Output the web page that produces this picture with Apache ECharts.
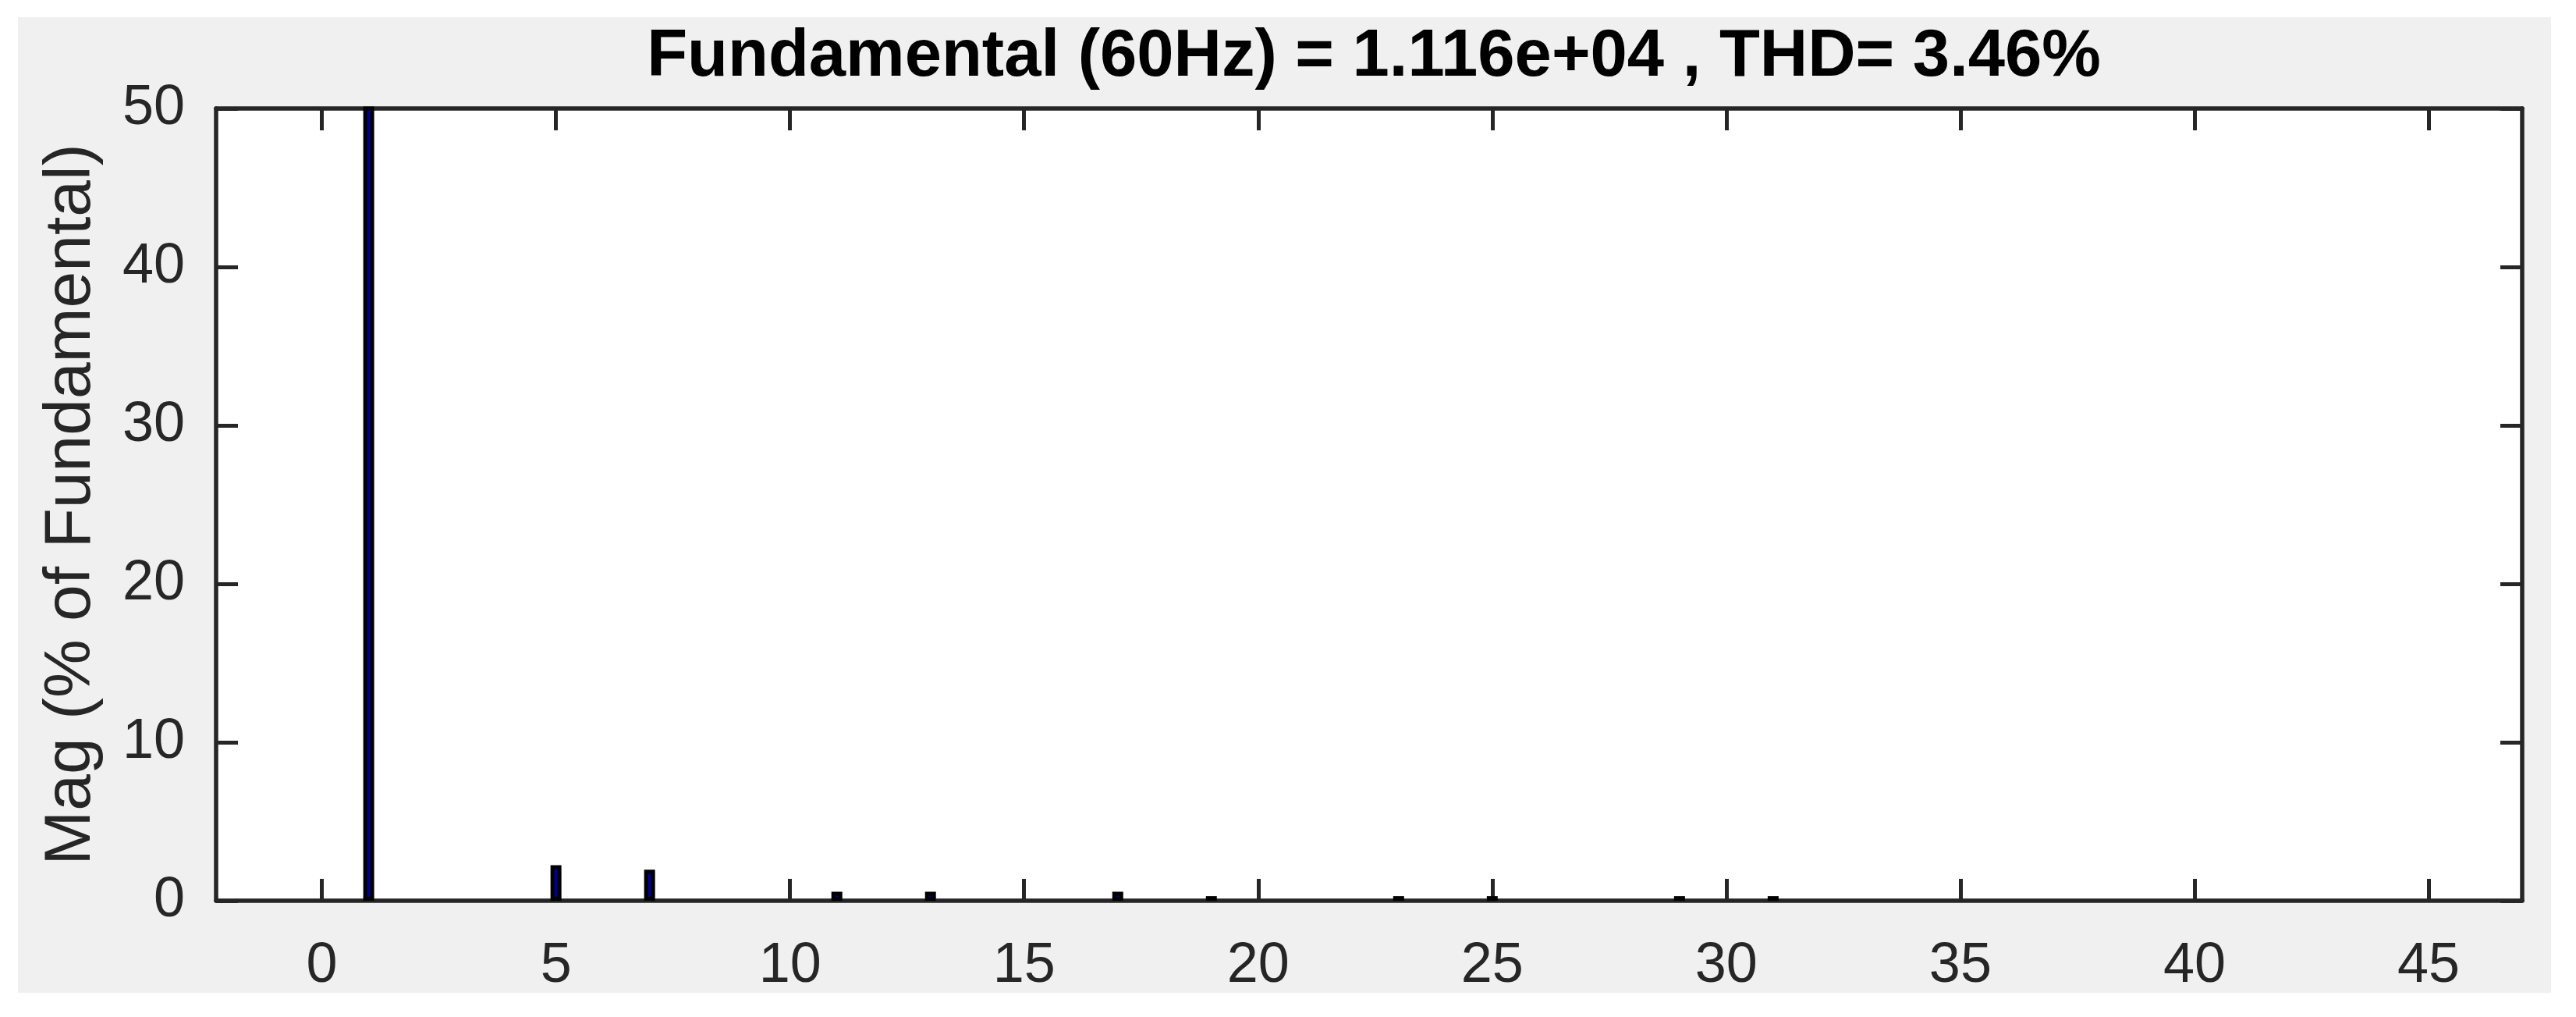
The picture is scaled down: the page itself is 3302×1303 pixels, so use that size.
<!DOCTYPE html>
<html>
<head>
<meta charset="utf-8" />
<title>FFT analysis</title>
<script src="https://cdn.jsdelivr.net/npm/echarts@6/dist/echarts.min.js"></script>
<style>
  html,
  body {
    margin: 0;
    padding: 0;
    background: #fff;
  }
  #frame {
    position: absolute;
    left: 23px;
    top: 22px;
    width: 3247px;
    height: 1250px;
    background: #f0f0f0;
  }
  #chart {
    position: absolute;
    left: 0;
    top: 0;
    width: 3302px;
    height: 1303px;
  }
</style>
</head>
<body>
<div id="frame"></div>
<div id="chart"></div>
<script>
// harmonic order and magnitude (% of fundamental)
const harmonics = [1, 5, 7, 11, 13, 17, 19, 23, 25, 29, 31];
const magnitudes = [100, 2.24, 1.96, 0.57, 0.57, 0.57, 0.29, 0.29, 0.29, 0.29, 0.29];
const xTicks = [0, 5, 10, 15, 20, 25, 30, 35, 40, 45];
const titleText = "Fundamental (60Hz) = 1.116e+04 , THD= 3.46%";
const yName = "Mag (% of Fundamental)";

const axisColor = "#262626";
const font = "Liberation Sans";

const chart = echarts.init(document.getElementById("chart"), null, { renderer: "canvas" });

const lineStyle = { color: axisColor, width: 5.5 };
const tickStyle = { color: axisColor, width: 5 };

chart.setOption({
  animation: false,
  backgroundColor: "transparent",
  title: {
    text: titleText,
    left: 1756,
    textAlign: "center",
    top: 26,
    textStyle: {
      fontFamily: font,
      fontSize: 85,
      fontWeight: "bold",
      color: "#000",
    },
  },
  grid: {
    left: 277,
    right: 69,
    top: 139,
    bottom: 149,
    outerBoundsMode: "none",
    show: true,
    backgroundColor: "#fff",
    borderWidth: 0,
  },
  xAxis: [
    {
      type: "value",
      position: "bottom",
      min: -2.26,
      max: 47,
      axisLine: { show: true, onZero: false, lineStyle },
      axisTick: { show: true, inside: true, length: 28, lineStyle: tickStyle, customValues: xTicks },
      axisLabel: {
        customValues: xTicks,
        margin: 48,
        fontFamily: font,
        fontSize: 72,
        color: axisColor,
      },
      splitLine: { show: false },
    },
    {
      type: "value",
      position: "top",
      min: -2.26,
      max: 47,
      axisLine: { show: true, onZero: false, lineStyle },
      axisTick: { show: true, inside: true, length: 28, lineStyle: tickStyle, customValues: xTicks },
      axisLabel: { show: false },
      splitLine: { show: false },
    },
  ],
  yAxis: [
    {
      type: "value",
      position: "left",
      min: 0,
      max: 50,
      interval: 10,
      name: yName,
      nameLocation: "middle",
      nameRotate: 90,
      nameGap: 143,
      nameTextStyle: {
        fontFamily: font,
        fontSize: 84,
        color: axisColor,
      },
      axisLine: { show: true, onZero: false, lineStyle },
      axisTick: { show: true, inside: true, length: 28, lineStyle: tickStyle },
      axisLabel: {
        margin: 40,
        fontFamily: font,
        fontSize: 72,
        color: axisColor,
      },
      splitLine: { show: false },
    },
    {
      type: "value",
      position: "right",
      min: 0,
      max: 50,
      interval: 10,
      axisLine: { show: true, onZero: false, lineStyle },
      axisTick: { show: true, inside: true, length: 28, lineStyle: tickStyle },
      axisLabel: { show: false },
      splitLine: { show: false },
    },
  ],
  series: [
    {
      type: "bar",
      xAxisIndex: 0,
      yAxisIndex: 0,
      barWidth: 14,
      clip: true,
      itemStyle: {
        color: "#00008f",
        borderColor: "#000",
        borderWidth: 5,
      },
      data: harmonics.map((h, i) => [h, magnitudes[i]]),
      z: 1,
    },
  ],
});
</script>
</body>
</html>
